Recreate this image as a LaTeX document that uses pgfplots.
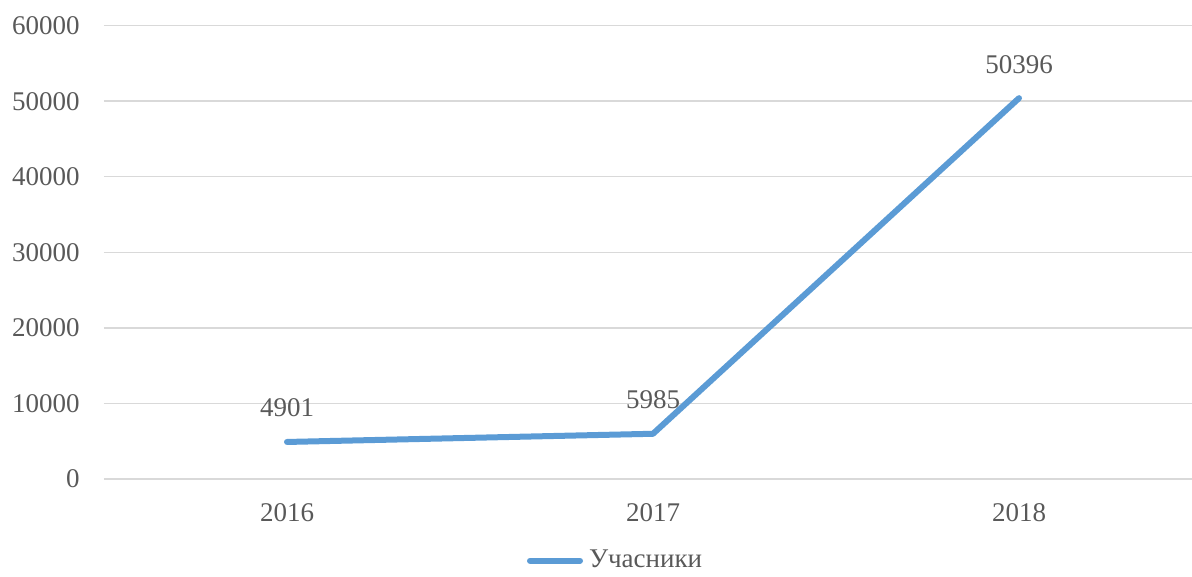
\documentclass[border=0pt]{standalone}
\usepackage{pgfplots}
\pgfplotsset{compat=1.18}
\usepackage{fontspec}
\setmainfont{Liberation Serif}
\definecolor{lineblue}{HTML}{5B9BD5}
\definecolor{txtgray}{HTML}{595959}
\definecolor{gridgray}{HTML}{D9D9D9}
\begin{document}
\begin{tikzpicture}
\begin{axis}[
  at={(0,0)}, anchor=south west,
  scale only axis,
  width=544pt, height=226.7pt,
  xmin=-0.5, xmax=2.4727,
  ymin=0, ymax=60000,
  ytick={0,10000,20000,30000,40000,50000,60000},
  xtick={0,1,2},
  xticklabels={2016,2017,2018},
  ymajorgrids=true,
  major grid style={gridgray, line width=0.75pt},
  axis line style={draw=none},
  major tick length=0pt,
  scaled y ticks=false,
  /pgf/number format/1000 sep={},
  /pgf/number format/assume math mode=true,
  font=\fontsize{13.5}{16}\selectfont,
  tick label style={text=txtgray, font=\fontsize{13.5}{16}\selectfont, inner sep=0pt},
  yticklabel style={anchor=east, xshift=-12pt},
  xticklabel style={anchor=north, yshift=-12pt},
  nodes near coords,
  nodes near coords style={text=txtgray, font=\fontsize{13.5}{16}\selectfont, anchor=base, inner sep=0pt, yshift=12.5pt},
  clip=false,
  legend style={draw=none, fill=none, inner sep=0pt, outer sep=0pt,
    at={(0.3888,-0.180)}, anchor=west,
    font=\fontsize{13.5}{16}\selectfont, text=txtgray,
    nodes={inner sep=0pt}, column sep=3pt},
  legend image code/.code={\draw[#1] (1.5pt,0pt) -- (26.5pt,0pt);},
]
\addplot[lineblue, line width=3pt, line cap=round, line join=round, mark=none]
  coordinates {(0,4901) (1,5985) (2,50396)};
\addlegendentry{Учасники}
\end{axis}
\pgfresetboundingbox
\useasboundingbox (-52pt,-49pt) rectangle (544pt,239.5pt);
\end{tikzpicture}
\end{document}
